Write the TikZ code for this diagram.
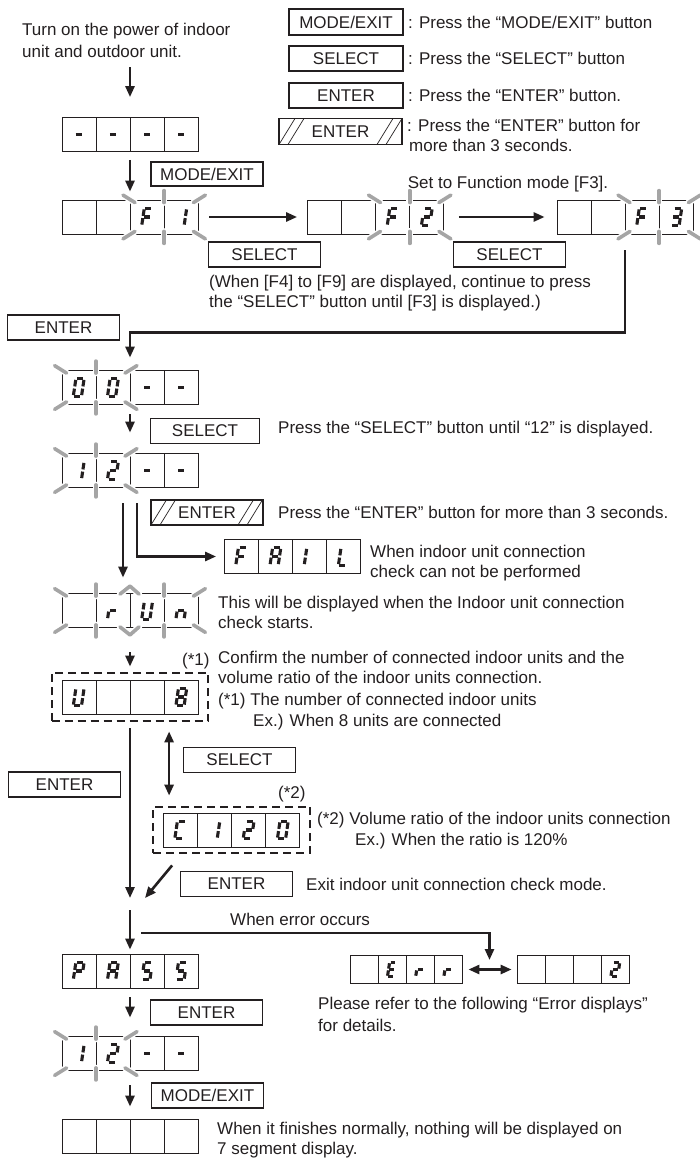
\documentclass[tikz,border=0pt]{standalone}
\usepackage{fontspec}
\setmainfont{Liberation Sans}
\usetikzlibrary{arrows.meta,positioning,calc,fit}
\definecolor{Ink}{HTML}{231F20}
\definecolor{Blink}{HTML}{A5A5A5}
\tikzset{
  segdisp/.style={draw=Ink,line width=.8pt,minimum width=136pt,minimum height=34pt,inner sep=0pt,
    path picture={\foreach \f in {.25,.5,.75}{\draw[Ink,line width=.8pt]
      ($(path picture bounding box.south west)!\f!(path picture bounding box.south east)$) --
      ($(path picture bounding box.north west)!\f!(path picture bounding box.north east)$);}}},
  smalldisp/.style={segdisp,minimum width=112pt,minimum height=28pt},
  btn/.style={draw=Ink,line width=1.6pt,minimum width=112pt,minimum height=25pt,inner sep=0pt,
    font=\fontsize{17}{20}\selectfont,text=Ink},
  holdbtn/.style={btn,path picture={\draw[Ink,line width=.7pt]
      (path picture bounding box.south west) -- ++(16pt,26pt)
      ([xshift=9pt]path picture bounding box.south west) -- ++(16pt,26pt)
      ([xshift=-25pt]path picture bounding box.south east) -- ++(16pt,26pt)
      ([xshift=-16pt]path picture bounding box.south east) -- ++(16pt,26pt);}},
  txt/.style={inner sep=0pt,anchor=north west,align=left,font=\fontsize{17}{20}\selectfont,text=Ink},
  dashbox/.style={draw=Ink,line width=2pt,dash pattern=on 8pt off 5pt,inner xsep=10pt,inner ysep=7pt},
  flow/.style={-{Triangle[length=11pt,width=9pt]},draw=Ink,line width=2.6pt},
  dflow/.style={{Triangle[length=11pt,width=9pt]}-{Triangle[length=11pt,width=9pt]},draw=Ink,line width=2.6pt},
  seg/.style={draw=Ink,line width=3.1pt},
  ray/.style={draw=Blink,line width=3.6pt,line cap=round,line join=round,
    preaction={draw=white,line width=6.5pt,line cap=round}},
  sg a/.pic={\draw[seg] (-3pt,8.8pt) -- (3pt,8.8pt);},
  sg b/.pic={\draw[seg] (4.1pt,7.6pt) -- (4.1pt,1.1pt);},
  sg c/.pic={\draw[seg] (4.1pt,-1.1pt) -- (4.1pt,-7.6pt);},
  sg d/.pic={\draw[seg] (-3pt,-8.8pt) -- (3pt,-8.8pt);},
  sg e/.pic={\draw[seg] (-4.1pt,-1.1pt) -- (-4.1pt,-7.6pt);},
  sg f/.pic={\draw[seg] (-4.1pt,7.6pt) -- (-4.1pt,1.1pt);},
  sg g/.pic={\draw[seg] (-3pt,0pt) -- (3pt,0pt);}
}
% seven segment glyphs
\newcommand\sdF{a,f,e,g}
\newcommand\sdOne{b,c}
\newcommand\sdTwo{a,b,g,e,d}
\newcommand\sdThree{a,b,g,c,d}
\newcommand\sdZero{a,b,c,d,e,f}
\newcommand\sdDash{g}
\newcommand\sdR{e,g}
\newcommand\sdU{b,c,d,e,f}
\newcommand\sdN{e,g,c}
\newcommand\sdA{a,b,c,e,f,g}
\newcommand\sdI{e,f}
\newcommand\sdL{f,e,d}
\newcommand\sdP{a,b,f,g,e}
\newcommand\sdS{a,f,g,c,d}
\newcommand\sdE{a,f,g,e,d}
\newcommand\sdC{a,f,e,d}
\newcommand\sdEight{a,b,c,d,e,f,g}
\newcommand\digit[4][1]{\foreach \s in #4 {\pic[scale=#1,xslant=.15] at ($(#2.west)!#3/4-.125!(#2.east)$) {sg \s};}}
\newcommand\blink[4]{%
  \draw[ray] ($(#1.north west)!#2/4!(#1.north east)+(-7pt,4.5pt)$) -- ++(12pt,-7.5pt);
  \draw[ray] ($(#1.north west)!#3/4!(#1.north east)+(-5pt,-3pt)$) -- ++(12pt,7.5pt);
  \draw[ray] ($(#1.south west)!#2/4!(#1.south east)+(-7pt,-4.5pt)$) -- ++(12pt,7.5pt);
  \draw[ray] ($(#1.south west)!#3/4!(#1.south east)+(-5pt,3pt)$) -- ++(12pt,-7.5pt);
  \foreach \k in {#4}{
    \draw[ray] ($(#1.north west)!\k/4!(#1.north east)+(0,9pt)$) -- ++(0,-12pt);
    \draw[ray] ($(#1.south west)!\k/4!(#1.south east)+(0,-9pt)$) -- ++(0,12pt);}}
\newcommand\peak[2]{%
  \draw[ray] ($(#1.north west)!#2/4!(#1.north east)+(-10pt,-1pt)$) -- ++(10pt,8pt) -- ++(9pt,-8pt);
  \draw[ray] ($(#1.south west)!#2/4!(#1.south east)+(-10pt,1pt)$) -- ++(10pt,-8pt) -- ++(9pt,8pt);}

\begin{document}
\begin{tikzpicture}[x=1pt,y=-1pt]
  \useasboundingbox (0,0) rectangle (699,1158);
  % legend
  \node[btn,minimum width=114pt,minimum height=26pt] (lgMode) at (346,22) {MODE/EXIT};
  \node[btn,minimum width=114pt] (lgSel) at (346,58.5) {SELECT};
  \node[btn,minimum width=114pt] (lgEnt) at (346,95.5) {ENTER};
  \node[holdbtn,minimum width=123pt,minimum height=26pt] (lgHold) at (340.5,131.5) {ENTER};
  \node[txt,anchor=west,right=4pt of lgMode] (lgModeT) {: Press the “MODE/EXIT” button};
  \node[txt,anchor=west,right=4pt of lgSel] (lgSelT) {: Press the “SELECT” button};
  \node[txt,anchor=west,right=4pt of lgEnt] (lgEntT) {: Press the “ENTER” button.};
  \node[txt] (lgHoldT) at (407,119.3) {: Press the “ENTER” button for\\\hspace*{2pt}more than 3 seconds.};

  % displays
  \node[txt,font=\fontsize{17}{22}\selectfont] (turn) at (22,22.5) {Turn on the power of indoor\\unit and outdoor unit.};
  \node[segdisp] (d0) at (130,134.5) {};
  \node[segdisp] (f1) at (130,217) {};
  \node[segdisp] (f2) at (375.5,217) {};
  \node[segdisp] (f3) at (625,217) {};
  \node[segdisp] (d00) at (130,387.5) {};
  \node[segdisp] (d12) at (130,470.5) {};
  \node[segdisp] (fail) at (292.5,556.5) {};
  \node[segdisp] (run) at (130,610.5) {};
  \node[segdisp] (u8) at (130,697) {};
  \node[segdisp] (c120) at (231.5,830) {};
  \node[segdisp] (pass) at (130,971) {};
  \node[segdisp] (d12b) at (130,1053.5) {};
  \node[segdisp] (dend) at (130,1136) {};
  \node[smalldisp] (err) at (406,969.5) {};
  \node[smalldisp] (e2) at (573,969.5) {};
  \node[dashbox,fit=(u8)] (dash1) {};
  \node[dashbox,inner ysep=6pt,fit=(c120)] (dash2) {};

  \digit{d0}{1}{\sdDash}\digit{d0}{2}{\sdDash}\digit{d0}{3}{\sdDash}\digit{d0}{4}{\sdDash}
  \digit{f1}{3}{\sdF}\digit{f1}{4}{\sdOne}
  \digit{f2}{3}{\sdF}\digit{f2}{4}{\sdTwo}
  \digit{f3}{3}{\sdF}\digit{f3}{4}{\sdThree}
  \digit{d00}{1}{\sdZero}\digit{d00}{2}{\sdZero}\digit{d00}{3}{\sdDash}\digit{d00}{4}{\sdDash}
  \digit{d12}{1}{\sdOne}\digit{d12}{2}{\sdTwo}\digit{d12}{3}{\sdDash}\digit{d12}{4}{\sdDash}
  \digit{fail}{1}{\sdF}\digit{fail}{2}{\sdA}\digit{fail}{3}{\sdI}\digit{fail}{4}{\sdL}
  \digit{run}{2}{\sdR}\digit{run}{3}{\sdU}\digit{run}{4}{\sdN}
  \digit{u8}{1}{\sdU}\digit{u8}{4}{\sdEight}
  \digit{c120}{1}{\sdC}\digit{c120}{2}{\sdOne}\digit{c120}{3}{\sdTwo}\digit{c120}{4}{\sdZero}
  \digit{pass}{1}{\sdP}\digit{pass}{2}{\sdA}\digit{pass}{3}{\sdS}\digit{pass}{4}{\sdS}
  \digit{d12b}{1}{\sdOne}\digit{d12b}{2}{\sdTwo}\digit{d12b}{3}{\sdDash}\digit{d12b}{4}{\sdDash}
  \digit[.82]{err}{2}{\sdE}\digit[.82]{err}{3}{\sdR}\digit[.82]{err}{4}{\sdR}
  \digit[.82]{e2}{4}{\sdTwo}

  % blinking digits
  \blink{f1}{2}{4}{3}
  \blink{f2}{2}{4}{3}
  \blink{f3}{2}{4}{3}
  \blink{d00}{0}{2}{1}
  \blink{d12}{0}{2}{1}
  \blink{run}{0}{4}{1,3}\peak{run}{2}
  \blink{d12b}{0}{2}{1}

  % buttons
  \node[btn,minimum height=24pt] (bMode1) at (207,174) {MODE/EXIT};
  \node[btn] (bSel1) at (264.5,254.5) {SELECT};
  \node[btn] (bSel2) at (509.5,254.5) {SELECT};
  \node[btn] (bEnt1) at (63.5,327.5) {ENTER};
  \node[btn,minimum width=109pt] (bSel3) at (205,431) {SELECT};
  \node[holdbtn] (bHold) at (207,512.5) {ENTER};
  \node[btn] (bSel4) at (239.5,760) {SELECT};
  \node[btn] (bEnt2) at (64.5,784.5) {ENTER};
  \node[btn] (bEnt3) at (236.5,884) {ENTER};
  \node[btn] (bEnt4) at (206.5,1012.5) {ENTER};
  \node[btn] (bMode2) at (207.5,1095.5) {MODE/EXIT};

  % notes
  \node[txt,anchor=north] (modeT) at (508,175.5) {Set to Function mode [F3].};
  \node[txt] (f39T) at (209,274.5) {(When [F4] to [F9] are displayed, continue to press\\the “SELECT” button until [F3] is displayed.)};
  \node[txt] (selT) at (278,421) {Press the “SELECT” button until “12” is displayed.};
  \node[txt] (holdT) at (278,506) {Press the “ENTER” button for more than 3 seconds.};
  \node[txt] (failT) at (370,544.5) {When indoor unit connection\\check can not be performed};
  \node[txt] (runT) at (218,595.5) {This will be displayed when the Indoor unit connection\\check starts.};
  \node[txt] (star1) at (182,652.5) {(*1)};
  \node[txt] (confT) at (218,650.5) {Confirm the number of connected indoor units and the\\volume ratio of the indoor units connection.};
  \node[txt,font=\fontsize{17}{21}\selectfont] (numT) at (218,692.5) {(*1) The number of connected indoor units\\\hspace*{35pt}Ex.) When 8 units are connected};
  \node[txt] (star2) at (278,785.5) {(*2)};
  \node[txt,font=\fontsize{17}{21}\selectfont] (volT) at (317,811.5) {(*2) Volume ratio of the indoor units connection\\\hspace*{38pt}Ex.) When the ratio is 120\%};
  \node[txt] (exitT) at (306,877.5) {Exit indoor unit connection check mode.};
  \node[txt] (errT) at (230,912.5) {When error occurs};
  \node[txt,font=\fontsize{17}{22}\selectfont] (referT) at (318,996.5) {Please refer to the following “Error displays”\\for details.};
  \node[txt] (endT) at (217,1121.5) {When it finishes normally, nothing will be displayed on\\7 segment display.};

  % connectors
  \coordinate (merge) at (130,904);
  \coordinate (branch) at ($(merge)+(11,29)$);
  \coordinate (selx) at ($(dash2.north west)+(17,0)$);
  \draw[flow,shorten <=10pt,shorten >=20pt] (turn.south -| d0.north) -- (d0.north);
  \draw[flow,shorten <=8pt,shorten >=8pt] (d0.south) -- (f1.north);
  \draw[flow,shorten <=11pt,shorten >=10pt] (f1.east) -- (f2.west);
  \draw[flow,shorten <=15pt,shorten >=12pt] (f2.east) -- (f3.west);
  \draw[flow,shorten <=16pt,shorten >=12.5pt] (f3.south) -- ++(0,98) -| (d00.north);
  \draw[flow,shorten <=9.5pt,shorten >=20.5pt] (d00.south) -- (d12.north);
  \draw[flow,shorten <=15.5pt,shorten >=15.5pt] ([xshift=-7pt]d12.south) -- ([xshift=-7pt]run.north);
  \draw[flow,shorten <=15.5pt,shorten >=8pt] ([xshift=7pt]d12.south) |- (fail.west);
  \draw[flow,shorten <=24.5pt,shorten >=13pt] (run.south) -- (u8.north);
  \draw[flow,shorten <=14pt,shorten >=6pt] (u8.south) -- (merge);
  \draw[dflow,shorten <=10pt,shorten >=9pt] (selx) -- (selx |- dash1.south);
  \draw[flow] ($(dash2.south west)+(20,11)$) -- ($(merge)+(15,-6)$);
  \draw[flow,shorten <=6pt,shorten >=4pt] (merge) -- (pass.north);
  \draw[flow,shorten >=9.5pt] (branch) -| ($(err.east)!.5!(e2.west)$);
  \draw[dflow,shorten <=6pt,shorten >=5pt] (err.east) -- (e2.west);
  \draw[flow,shorten <=9pt,shorten >=18.5pt] (pass.south) -- (d12b.north);
  \draw[flow,shorten <=14.5pt,shorten >=12pt] (d12b.south) -- (dend.north);
\end{tikzpicture}
\end{document}
